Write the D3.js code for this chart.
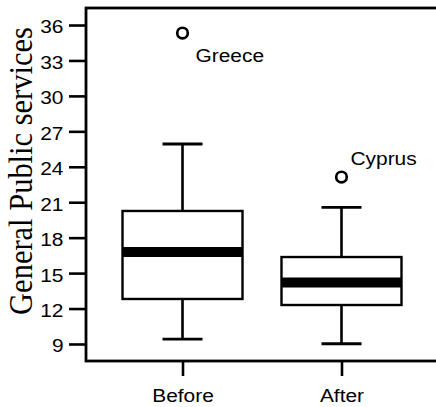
<!DOCTYPE html>
<html>
<head>
<meta charset="utf-8">
<script src="https://cdn.jsdelivr.net/npm/d3@7"></script>
<style>
  html, body { margin: 0; padding: 0; background: #fff; }
  svg { display: block; }
</style>
</head>
<body>
<svg id="chart" width="436" height="407"></svg>
<script>
// Box-plot summaries for each period
const categories  = ["Before", "After"];
const whiskerLow  = [9.42, 9.02];
const quart1      = [12.81, 12.30];
const medians     = [16.79, 14.20];
const quart3      = [20.26, 16.36];
const whiskerHigh = [25.93, 20.57];

// Outlying countries
const outlierGroup  = ["Before", "After"];
const outlierValue  = [35.32, 23.13];
const outlierLabel  = ["Greece", "Cyprus"];

const yTicks = [9, 12, 15, 18, 21, 24, 27, 30, 33, 36];
const yTitle = "General Public services";

const svg = d3.select("#chart");
const plotLeft = 86, plotRight = 438, plotTop = 8, plotBottom = 361;
const stretch = 1.1;
const sansFont = "'Liberation Sans', Arial, sans-serif";

const x = d3.scalePoint().domain(categories).range([plotLeft, plotRight]).padding(0.607);
const y = d3.scaleLinear().domain([7.56, 37.44]).range([plotBottom, plotTop]);

const boxW = 120, capW = 40;

// frame
svg.append("rect")
  .attr("x", plotLeft).attr("y", plotTop)
  .attr("width", plotRight - plotLeft).attr("height", plotBottom - plotTop)
  .attr("fill", "none").attr("stroke", "#000").attr("stroke-width", 2.8);

// y axis
const yAxis = svg.append("g")
  .attr("transform", `translate(${plotLeft},0)`)
  .call(d3.axisLeft(y).tickValues(yTicks).tickSize(17).tickFormat(d3.format("d")));
yAxis.select(".domain").remove();
yAxis.selectAll("line").attr("stroke", "#000").attr("stroke-width", 2.6);
yAxis.selectAll("text")
  .attr("font-family", sansFont)
  .attr("font-size", 19).attr("fill", "#000")
  .attr("x", -22.5 / stretch).attr("dy", "0.42em")
  .attr("transform", `scale(${stretch},1)`);

// x axis
const xAxis = svg.append("g")
  .attr("transform", `translate(0,${plotBottom})`)
  .call(d3.axisBottom(x).tickSize(15).tickPadding(13));
xAxis.select(".domain").remove();
xAxis.selectAll("line").attr("stroke", "#000").attr("stroke-width", 2.6);
xAxis.selectAll("text")
  .attr("font-family", sansFont)
  .attr("font-size", 19).attr("fill", "#000")
  .attr("transform", `scale(${stretch},1)`);

// y title
svg.append("text")
  .attr("transform", `translate(32,171) rotate(-90) scale(1,${stretch})`)
  .attr("text-anchor", "middle")
  .attr("font-family", "'Liberation Serif', 'Times New Roman', serif")
  .attr("font-size", 30.5)
  .attr("fill", "#000")
  .text(yTitle);

// boxes
const boxes = categories.map((c, i) => ({
  c, lo: whiskerLow[i], q1: quart1[i], med: medians[i], q3: quart3[i], hi: whiskerHigh[i]
}));

const g = svg.selectAll("g.box").data(boxes).join("g").attr("class", "box");

// whisker stems
g.append("line")
  .attr("x1", d => x(d.c)).attr("x2", d => x(d.c))
  .attr("y1", d => y(d.q3)).attr("y2", d => y(d.hi))
  .attr("stroke", "#000").attr("stroke-width", 2.6);
g.append("line")
  .attr("x1", d => x(d.c)).attr("x2", d => x(d.c))
  .attr("y1", d => y(d.q1)).attr("y2", d => y(d.lo))
  .attr("stroke", "#000").attr("stroke-width", 2.6);
// whisker caps
["hi", "lo"].forEach(k => {
  g.append("line")
    .attr("x1", d => x(d.c) - capW / 2).attr("x2", d => x(d.c) + capW / 2)
    .attr("y1", d => y(d[k])).attr("y2", d => y(d[k]))
    .attr("stroke", "#000").attr("stroke-width", 2.8);
});
// box body
g.append("rect")
  .attr("x", d => x(d.c) - boxW / 2).attr("width", boxW)
  .attr("y", d => y(d.q3)).attr("height", d => y(d.q1) - y(d.q3))
  .attr("fill", "#fff").attr("stroke", "#000").attr("stroke-width", 2.4);
// median band
g.append("line")
  .attr("x1", d => x(d.c) - boxW / 2).attr("x2", d => x(d.c) + boxW / 2)
  .attr("y1", d => y(d.med)).attr("y2", d => y(d.med))
  .attr("stroke", "#000").attr("stroke-width", 10);

// outliers
const outs = outlierValue.map((v, i) => ({ g: outlierGroup[i], v, label: outlierLabel[i] }));
svg.selectAll("circle.out").data(outs).join("circle")
  .attr("class", "out")
  .attr("cx", d => x(d.g)).attr("cy", d => y(d.v))
  .attr("r", 5.3)
  .attr("fill", "none").attr("stroke", "#000").attr("stroke-width", 2.7);

const labelOffset = { Greece: [13, 28.5], Cyprus: [9, -12] };
svg.selectAll("text.out").data(outs).join("text")
  .attr("class", "out")
  .attr("transform", d => `translate(${x(d.g) + labelOffset[d.label][0]},${y(d.v) + labelOffset[d.label][1]}) scale(${stretch},1)`)
  .attr("font-family", sansFont)
  .attr("font-size", 19).attr("fill", "#000")
  .text(d => d.label);
</script>
</body>
</html>
